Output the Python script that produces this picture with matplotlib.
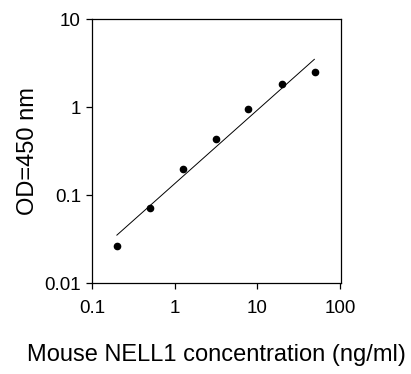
import matplotlib
matplotlib.use("Agg")
from matplotlib import pyplot as plt
from matplotlib.ticker import FixedLocator, FixedFormatter, NullLocator

plt.rcParams['font.family'] = ['Liberation Sans', 'DejaVu Sans']

# standard curve points
conc = [0.2, 0.5, 1.25, 3.125, 7.8, 20, 50]
od = [0.026, 0.072, 0.2, 0.436, 0.95, 1.81, 2.52]

# fitted line end points
fit_x = [0.2, 49]
fit_y = [0.035, 3.48]

x_ticks = [0.1, 1, 10, 100]
x_labels = ['0.1', '1', '10', '100']
y_ticks = [0.01, 0.1, 1, 10]
y_labels = ['0.01', '0.1', '1', '10']

fig = plt.figure(figsize=(4.11, 3.74), dpi=100)
ax = fig.add_axes([92/411, 91/374, 249/411, 264/374])

ax.plot(fit_x, fit_y, color='black', lw=0.7)
ax.plot(conc, od, 'o', color='black', markersize=4.5)

ax.set_xscale('log')
ax.set_yscale('log')
ax.set_xlim(0.1, 103)
ax.set_ylim(0.01, 10)

ax.xaxis.set_major_locator(FixedLocator(x_ticks))
ax.xaxis.set_major_formatter(FixedFormatter(x_labels))
ax.yaxis.set_major_locator(FixedLocator(y_ticks))
ax.yaxis.set_major_formatter(FixedFormatter(y_labels))
ax.xaxis.set_minor_locator(NullLocator())
ax.yaxis.set_minor_locator(NullLocator())

ax.tick_params(direction='out', length=4, width=0.9, labelsize=13.5, pad=8)
ax.tick_params(axis='y', pad=4)
for s in ax.spines.values():
    s.set_linewidth(0.9)

ax.set_xlabel('Mouse NELL1 concentration (ng/ml)', fontsize=17, labelpad=20)
ax.set_ylabel('OD=450 nm', fontsize=17, labelpad=4)

fig.savefig('out.png', dpi=100)
